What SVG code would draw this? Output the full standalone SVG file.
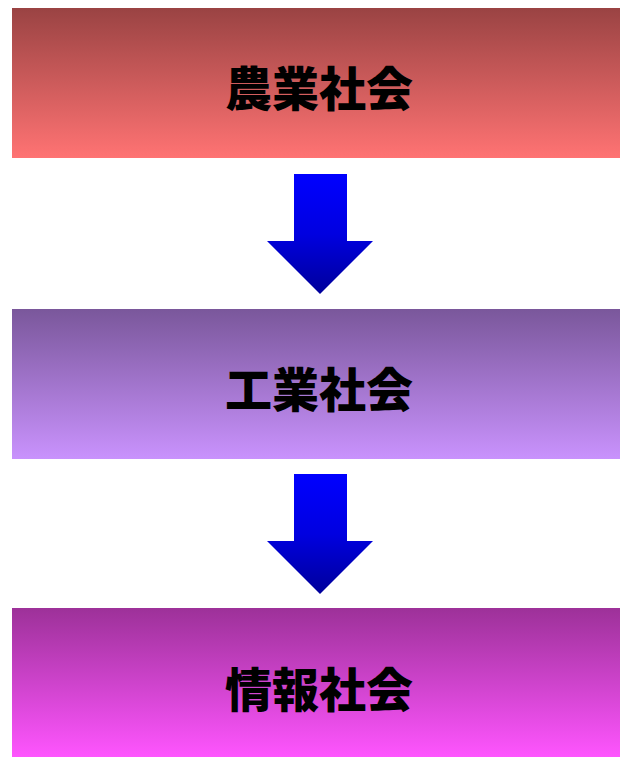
<svg xmlns="http://www.w3.org/2000/svg" width="620" height="757" viewBox="0 0 620 757">
<defs>
<linearGradient id="g1" x1="0" y1="0" x2="0" y2="1"><stop offset="0" stop-color="#9a4343"/><stop offset="1" stop-color="#ff7373"/></linearGradient>
<linearGradient id="g2" x1="0" y1="0" x2="0" y2="1"><stop offset="0" stop-color="#7a579b"/><stop offset="1" stop-color="#c992fd"/></linearGradient>
<linearGradient id="g3" x1="0" y1="0" x2="0" y2="1"><stop offset="0" stop-color="#9d3199"/><stop offset="1" stop-color="#fe55fe"/></linearGradient>
<linearGradient id="ga" x1="0" y1="0" x2="0" y2="1"><stop offset="0" stop-color="#0000ff"/><stop offset="0.5" stop-color="#0000e0"/><stop offset="1" stop-color="#00009a"/></linearGradient>
<style>
.lbl{font-family:"Noto Sans CJK JP","Noto Sans CJK SC",sans-serif;font-weight:900;font-size:47px;text-anchor:middle;fill:#000}
.arr{fill:url(#ga)}
</style>
</defs>
<g id="node1"><rect x="12" y="8" width="608" height="150" fill="url(#g1)"/><text class="lbl" x="319" y="106">農業社会</text></g>
<g id="node2"><rect x="12" y="309" width="608" height="150" fill="url(#g2)"/><text class="lbl" x="319" y="407">工業社会</text></g>
<g id="node3"><rect x="12" y="608" width="608" height="149" fill="url(#g3)"/><text class="lbl" x="319" y="707">情報社会</text></g>
<g id="connectors">
<polygon class="arr" points="294,174 347,174 347,241 373,241 320,294 267,241 294,241"/>
<polygon class="arr" points="294,474 347,474 347,541 373,541 320,594 267,541 294,541"/>
</g>
</svg>
